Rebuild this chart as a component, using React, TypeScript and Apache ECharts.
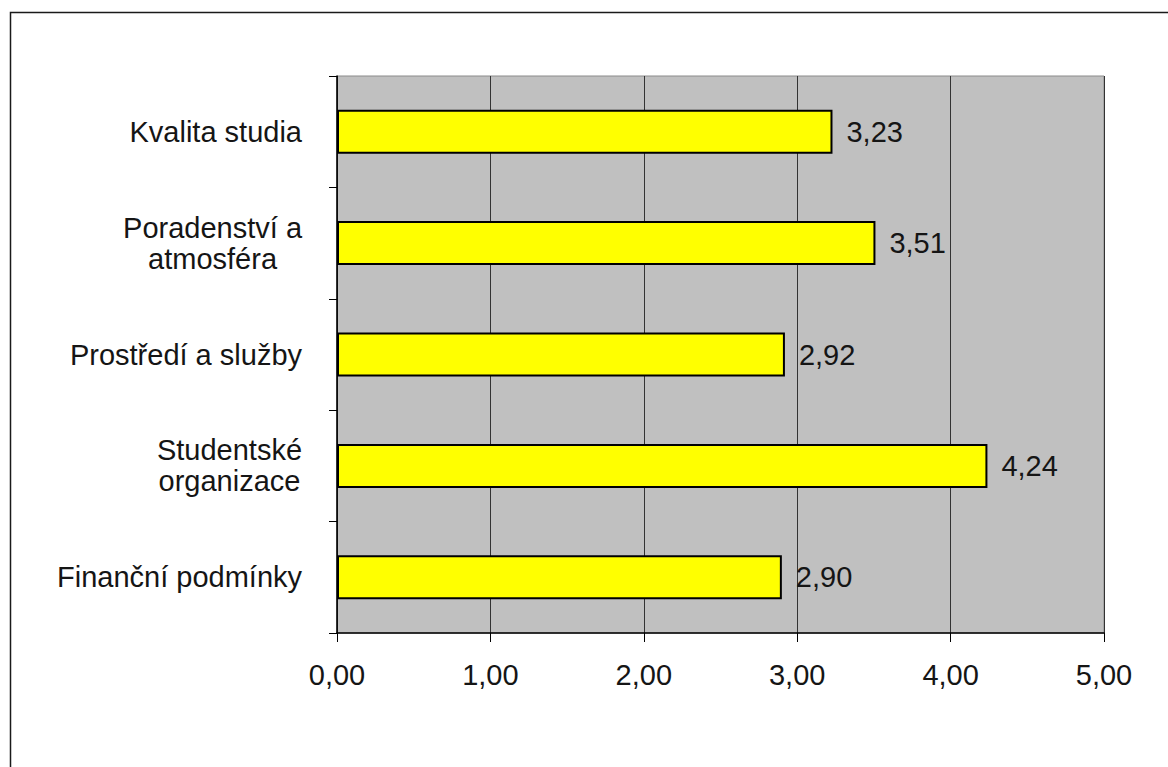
import React, { useEffect, useRef } from "react";
import * as echarts from "echarts";

// Survey category scores (average rating)
const categories: string[] = [
  "Kvalita studia",
  "Poradenství a\natmosféra",
  "Prostředí a služby",
  "Studentské\norganizace",
  "Finanční podmínky",
];
const scores: number[] = [3.23, 3.51, 2.92, 4.24, 2.9];
const xTicks: number[] = [0, 1, 2, 3, 4, 5];

const FONT = "'Liberation Sans', Arial, sans-serif";
const fmt = (v: number) => v.toFixed(2).replace(".", ",");

export default function App() {
  const ref = useRef<HTMLDivElement>(null);

  useEffect(() => {
    if (!ref.current) return;
    const chart = echarts.init(ref.current, undefined, { renderer: "svg" });
    chart.setOption({
      animation: false,
      backgroundColor: "#ffffff",
      textStyle: { fontFamily: FONT },
      graphic: [
        {
          type: "rect",
          shape: { x: 10.5, y: 12.5, width: 1200, height: 800 },
          style: { fill: "none", stroke: "#1a1a1a", lineWidth: 1.5 },
          silent: true,
        },
      ],
      grid: {
        left: 337,
        top: 76,
        right: 64,
        bottom: 134,
        show: true,
        backgroundColor: "#c0c0c0",
        borderColor: "#8a8a8a",
        borderWidth: 1,
      },
      xAxis: {
        type: "value",
        min: xTicks[0],
        max: xTicks[xTicks.length - 1],
        interval: 1,
        axisLine: { show: true, lineStyle: { color: "#000", width: 1.5 } },
        axisTick: { show: true, length: 9, lineStyle: { color: "#000" } },
        splitLine: { show: true, lineStyle: { color: "#333", width: 1 } },
        axisLabel: {
          margin: 27,
          fontSize: 29,
          color: "#151515",
          fontFamily: FONT,
          formatter: (v: number) => fmt(v),
        },
      },
      yAxis: {
        type: "category",
        inverse: true,
        data: categories,
        axisLine: { show: true, lineStyle: { color: "#000", width: 1.5 } },
        axisTick: { show: true, length: 8, lineStyle: { color: "#000" } },
        splitLine: { show: false },
        axisLabel: {
          margin: 35,
          fontSize: 29,
          color: "#151515",
          fontFamily: FONT,
          lineHeight: 31,
          formatter: (v: string) =>
            v
              .split("\n")
              .map((line) => `{c|${line}}`)
              .join("\n"),
          rich: {
            c: {
              align: "center",
              fontSize: 29,
              lineHeight: 31,
              color: "#151515",
              fontFamily: FONT,
            },
          },
        },
      },
      series: [
        {
          type: "bar",
          data: scores,
          barWidth: 44,
          itemStyle: { color: "#ffff00", borderColor: "#000", borderWidth: 2 },
          label: {
            show: true,
            position: "right",
            distance: 14,
            fontSize: 29,
            color: "#151515",
            fontFamily: FONT,
            formatter: (p: any) => fmt(p.value),
          },
        },
      ],
    });
    return () => chart.dispose();
  }, []);

  return (
    <div
      ref={ref}
      style={{ position: "absolute", left: 0, top: 0, width: 1168, height: 767 }}
    />
  );
}
